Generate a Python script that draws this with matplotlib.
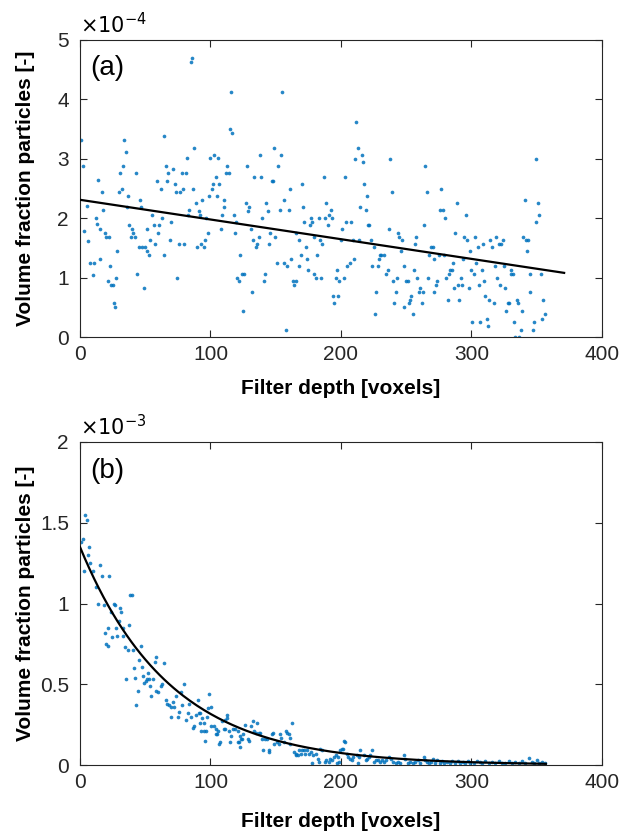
import matplotlib
matplotlib.use("Agg")
import numpy as np
import matplotlib.pyplot as plt
from matplotlib.ticker import FuncFormatter

# panel (a): volume fraction in units of 1e-4
depth_a = [1, 2, 3, 5, 6, 8, 10, 11, 12, 13, 14,
           15.7, 15.7, 17.0, 18.0, 18.8, 19.8, 21.1, 22.3, 22.9, 24.1, 25.2, 25.9, 27.2, 27.7, 28.7, 30.0, 31.0,
           32.0, 32.8, 33.8, 34.9, 35.9, 36.6, 37.7, 38.9, 40.0, 41.0, 42.0, 42.8, 43.8, 45.1, 45.8, 46.6, 47.9,
           48.9, 49.9, 51.0, 51.7, 53.0, 54.0, 55.0, 56.8, 57.8, 58.9, 59.6, 60.9, 61.9, 63.0, 64.0, 64.7, 65.8,
           66.8, 67.8, 68.6, 69.6, 70.9, 72.9, 73.9, 74.7, 76.0, 77.0, 78.0, 79.0, 79.8, 81.1, 81.9, 82.6, 83.6,
           84.9, 85.9, 86.9, 87.7, 89.0, 89.7, 91.0, 91.8, 92.8, 93.8, 94.9, 96.1, 96.9, 97.9, 98.9, 100.0, 101.0,
           101.7, 102.8, 104.0, 105.1, 105.6, 106.9, 107.9, 108.9, 110.2, 110.7, 111.7, 112.7, 114.0, 114.8, 115.8,
           116.8, 118.1, 118.9, 119.9, 120.6, 121.7, 122.9, 124.2, 124.7, 126.0, 127.0, 128.1, 128.8, 129.8, 130.9,
           131.9, 132.9, 133.7, 134.7, 136.0, 137.0, 137.8, 138.8, 139.8, 140.8, 141.8, 142.6, 143.9, 144.9, 145.9,
           147.2, 148.2, 148.7, 149.8, 151.1, 151.9, 152.9, 153.9, 154.9, 156.2, 156.7, 157.7, 158.8, 160.0, 160.8,
           161.8, 162.9, 163.9, 165.2, 165.9, 167.5, 168.0, 169.0, 170.0, 170.8, 171.8, 173.1, 174.1, 174.9, 175.9,
           176.9, 177.9, 179.0, 179.5, 180.7, 182.0, 183.0, 183.8, 184.8, 185.8, 186.9, 187.9, 188.9, 189.9, 191.0,
           192.0, 193.0, 193.8, 194.8, 196.1, 197.1, 197.9, 198.6, 199.9, 200.9, 202.2, 202.7, 204.0, 204.7, 206.8,
           207.8, 209.1, 209.9, 210.9, 211.6, 212.9, 213.9, 214.5, 216.0, 216.7, 217.7, 219.0, 220.0, 220.8, 221.8,
           222.9, 223.9, 225.1, 225.7, 226.7, 228.0, 229.0, 229.7, 231.0, 232.6, 234.6, 235.9, 236.9, 237.9, 239.0,
           239.7, 240.7, 241.8, 243.0, 243.5, 244.8, 245.8, 246.9, 248.1, 248.6, 249.9, 251.2, 252.0, 252.7, 253.8,
           255.0, 256.1, 257.1, 257.6, 258.6, 259.6, 260.9, 262.2, 262.7, 263.7, 264.7, 266.0, 266.8, 267.8, 269.3,
           270.4, 271.4, 271.6, 272.7, 273.9, 275.0, 275.5, 276.7, 278.0, 278.8, 279.6, 280.5, 281.8, 282.6, 283.9,
           285.1, 285.9, 286.7, 287.7, 289.0, 289.7, 290.8, 291.8, 292.8, 293.8, 294.6, 295.6, 296.6, 297.9, 298.7,
           299.7, 300.7, 301.7, 303.0, 303.8, 304.8, 305.8, 306.9, 307.9, 308.6, 309.7, 310.7, 312.0, 312.7, 313.7,
           314.5, 315.8, 317.1, 317.8, 318.9, 319.9, 321.2, 321.7, 322.7, 324.0, 324.7, 326.0, 326.8, 328.1, 329.1,
           330.1, 330.6, 331.6, 332.9, 333.7, 334.9, 335.7, 336.7, 337.8, 338.8, 339.8, 340.8, 341.6, 342.9, 343.6,
           344.7, 345.2, 346.8, 347.8, 349.1, 349.8, 350.9, 351.9, 352.9, 353.9, 354.7, 356.0]
frac_a = [3.32, 2.88, 1.78, 2.20, 1.62, 1.25, 1.05, 1.25, 2.00, 1.90, 2.65,
          1.82, 1.32, 2.44, 2.13, 1.75, 1.69, 0.94, 1.69, 1.19, 0.88, 0.88, 0.57, 0.50, 1.00, 1.44, 2.44, 2.76,
          2.50, 2.88, 3.31, 3.12, 2.19, 2.38, 1.88, 1.69, 1.82, 1.75, 1.69, 2.76, 1.06, 1.51, 2.31, 2.19, 1.51,
          0.82, 1.51, 1.44, 1.82, 1.38, 1.63, 2.06, 1.88, 1.57, 2.63, 1.75, 1.88, 2.50, 2.00, 1.38, 3.38, 2.88,
          2.63, 2.76, 1.63, 1.94, 2.82, 2.57, 2.44, 1.00, 1.57, 2.44, 2.76, 2.50, 1.57, 2.76, 3.01, 2.06, 2.13,
          4.63, 4.69, 2.50, 3.19, 2.25, 1.51, 2.12, 2.06, 1.57, 2.31, 1.51, 1.63, 2.00, 1.75, 2.38, 3.01, 2.50,
          2.57, 3.06, 2.69, 2.38, 3.01, 2.57, 1.82, 2.06, 2.19, 2.31, 2.76, 2.88, 2.76, 3.50, 4.12,
          3.44, 2.06, 1.75, 1.94, 1.00, 0.94, 1.38, 1.06, 0.44, 1.06, 2.25, 2.88, 2.12, 2.19, 1.82,
          0.76, 1.63, 2.69, 1.51, 1.57, 1.69, 3.06, 2.69, 2.00, 0.94, 1.06, 2.25, 2.12, 1.57, 1.75,
          2.63, 2.63, 3.19, 1.69, 1.25, 2.88, 2.13, 3.06, 4.12, 2.31, 1.25, 0.12, 1.19, 2.13, 2.50,
          1.32, 0.94, 0.88, 0.94, 1.75, 1.63, 1.19, 1.38, 2.57, 2.19, 1.94, 1.51, 1.32, 1.13, 1.88,
          2.00, 1.94, 1.69, 1.06, 1.00, 1.38, 2.00, 1.63, 1.00, 1.57, 2.69, 2.00, 2.25, 1.88, 2.06,
          2.13, 2.00, 0.69, 0.57, 1.00, 1.13, 0.69, 0.94, 1.63, 1.82, 1.00, 2.69, 1.94, 1.19, 1.25,
          1.94, 1.63, 1.32, 3.00, 3.62, 3.19, 1.63, 2.19, 3.06, 2.94, 2.57, 2.13, 2.38, 1.88, 1.88,
          1.63, 1.19, 1.51, 0.38, 0.76, 1.19, 1.32, 1.38, 1.38, 1.38, 1.06, 1.13, 1.82, 3.00, 2.44,
          0.94, 0.57, 0.76, 1.00, 1.75, 1.69, 1.44, 1.63, 1.19, 0.50, 0.94, 0.94, 0.57, 0.63, 0.69,
          0.38, 1.13, 1.56, 1.69, 1.00, 0.76, 0.82, 0.57, 0.76, 1.88, 2.88, 2.44, 1.00, 1.38, 1.51,
          1.51, 1.32, 0.76, 0.88, 0.94, 1.38, 2.13, 2.50, 2.13, 1.38, 2.00, 1.00, 0.63, 1.06, 1.13,
          1.13, 1.25, 0.82, 1.75, 2.25, 0.88, 0.63, 1.00, 0.88, 1.32, 1.69, 2.06, 1.63, 0.82, 1.44,
          1.13, 0.25, 1.06, 1.69, 1.25, 1.51, 0.88, 0.25, 1.13, 1.56, 0.94, 0.69, 0.31, 0.18, 0.63,
          1.63, 1.51, 0.57, 1.19, 1.69, 1.00, 1.56, 0.88, 1.56, 1.63, 1.19, 0.82, 0.44, 0.57, 0.57,
          1.06, 1.13, 1.06, 0.25, 0.00, 0.63, 0.57, 0.00, 0.12, 0.44, 1.69, 2.31, 1.63, 1.44, 1.63,
          1.06, 0.76, 0.12, 0.25, 1.94, 3.00, 2.25, 2.06, 1.06, 0.31, 0.63, 0.38]

# panel (b): volume fraction in units of 1e-3
depth_b = [1, 2, 3, 4, 5, 6, 7, 8, 10, 12, 14,
           15.7, 17.0, 18.3, 19.0, 19.8, 21.1, 21.8, 22.6, 24.1, 24.9, 25.9, 26.9, 27.4, 28.7, 29.7, 30.5, 31.8,
           32.6, 33.3, 34.3, 35.6, 36.9, 37.4, 38.7, 39.7, 40.7, 41.5, 42.5, 43.3, 44.3, 45.3, 46.4, 47.4, 48.1,
           49.2, 50.4, 51.0, 52.2, 53.2, 53.8, 54.5, 56.1, 57.3, 58.4, 58.6, 59.9, 61.7, 63.0, 64.0, 66.0, 67.0,
           68.1, 69.6, 69.9, 70.9, 72.4, 73.9, 75.0, 75.7, 77.5, 78.5, 79.8, 81.6, 82.6, 83.6, 84.7,
           86.4, 87.4, 89.2, 90.5, 91.0, 91.8, 92.0, 92.5, 93.6, 94.8, 95.1, 95.6, 96.4, 97.1, 98.2, 99.2, 100.2,
           100.7, 102.5, 104.3, 104.6, 105.3, 105.8, 106.9, 107.6, 108.6, 110.2, 111.0, 111.5, 112.5, 113.0, 114.0,
           114.8, 116.0, 117.3, 118.6, 120.9, 121.2, 121.9, 122.4, 122.9, 123.2, 124.2, 125.2, 126.8, 129.1, 129.8,
           131.4, 132.4, 133.4, 135.0, 135.5, 137.3, 138.0, 139.8, 140.3, 142.1, 143.1, 144.7, 144.9, 147.2, 148.2,
           148.7, 150.6, 152.4, 152.9, 154.4, 156.7, 157.5, 158.3, 159.8, 160.6, 161.3, 162.1, 163.9, 165.2, 165.7,
           166.9, 167.7, 169.0, 169.8, 171.5, 172.6, 174.1, 175.4, 177.2, 177.9, 178.7, 181.2, 182.3, 183.0, 184.3,
           185.8, 187.4, 188.9, 190.7, 191.5, 193.3, 194.5, 196.1, 196.6, 197.6, 198.4, 199.1, 200.7, 201.7, 202.2,
           203.2, 204.7, 205.5, 206.8, 208.1, 209.3, 211.9, 213.1, 213.7, 214.5, 217.5, 218.8, 220.0, 221.3, 222.6,
           223.9, 225.1, 226.9, 228.5, 230.0, 231.5, 233.1, 234.6, 236.6, 238.2, 239.7, 241.8, 243.8, 245.6, 248.4,
           249.4, 251.5, 253.2, 255.0, 257.1, 259.1, 260.9, 263.5, 264.7, 266.0, 267.3, 269.3, 270.6, 272.4, 273.9,
           275.5, 277.5, 279.3, 281.3, 283.4, 285.4, 287.4, 289.5, 291.5, 293.6, 295.4, 297.1, 299.2, 301.7, 304.3,
           306.3, 308.1, 310.7, 313.2, 315.8, 318.3, 320.9, 323.5, 326.0, 328.6, 331.1, 333.7, 336.2, 338.8, 341.3,
           343.9, 346, 348, 350, 352, 354, 356]
frac_b = [1.38, 1.40, 1.20, 1.55, 1.52, 1.30, 1.35, 1.25, 1.20, 1.10, 1.00,
          1.24, 1.17, 0.99, 0.82, 0.75, 0.74, 0.85, 1.17, 0.95, 0.79, 1.00, 0.99, 0.85, 0.80, 0.89, 0.97, 0.95,
          0.80, 0.85, 0.73, 0.53, 0.71, 0.87, 1.05, 1.05, 0.71, 0.60, 0.54, 0.37, 0.46, 0.65, 0.74, 0.61, 0.55,
          0.51, 0.52, 0.53, 0.57, 0.53, 0.49, 0.43, 0.53, 0.64, 0.67, 0.46, 0.45, 0.49, 0.50, 0.63, 0.40, 0.38,
          0.37, 0.36, 0.30, 0.39, 0.36, 0.43, 0.30, 0.33, 0.45, 0.37, 0.50, 0.28, 0.32, 0.38, 0.30,
          0.23, 0.24, 0.31, 0.40, 0.32, 0.26, 0.32, 0.21, 0.29, 0.26, 0.21, 0.15, 0.21, 0.30, 0.35, 0.44, 0.36,
          0.24, 0.24, 0.22, 0.19, 0.19, 0.21, 0.13, 0.14, 0.27, 0.22, 0.22, 0.28, 0.31, 0.29, 0.21,
          0.14, 0.18, 0.22, 0.22, 0.21, 0.14, 0.14, 0.18, 0.11, 0.16, 0.16, 0.19, 0.25, 0.16, 0.15,
          0.24, 0.27, 0.21, 0.20, 0.26, 0.20, 0.20, 0.16, 0.09, 0.16, 0.16, 0.09, 0.08, 0.19, 0.20,
          0.13, 0.14, 0.13, 0.19, 0.17, 0.14, 0.21, 0.20, 0.19, 0.13, 0.17, 0.26, 0.08, 0.06, 0.07,
          0.06, 0.09, 0.07, 0.09, 0.09, 0.07, 0.09, 0.07, 0.08, 0.01, 0.06, 0.07, 0.04, 0.02, 0.10,
          0.09, 0.02, 0.03, 0.02, 0.04, 0.03, 0.05, 0.06, 0.01, 0.05, 0.02, 0.09, 0.10, 0.10, 0.15,
          0.14, 0.07, 0.05, 0.04, 0.03, 0.05, 0.06, 0.01, 0.05, 0.09, 0.06, 0.03, 0.04, 0.05, 0.06,
          0.09, 0.02, 0.03, 0.03, 0.02, 0.03, 0.02, 0.03, 0.05, 0.04, 0.02, 0.01, 0.02, 0.01, 0.06,
          0.04, 0.01, 0.02, 0.01, 0.02, 0.03, 0.01, 0.05, 0.03, 0.02, 0.01, 0.02, 0.04, 0.01, 0.03,
          0.01, 0.027, 0.010, 0.021, 0.010, 0.023, 0.010, 0.027, 0.010, 0.019, 0.010, 0.027, 0.014, 0.010, 0.027,
          0.019, 0.010, 0.023, 0.010, 0.021, 0.010, 0.023, 0.014, 0.010, 0.023, 0.010, 0.019, 0.010, 0.027, 0.014,
          0.041, 0.02, 0.01, 0.03, 0.01, 0.02, 0.01]

# fitted trends
lin_a_x = [0, 371]
lin_a_y = [2.31, 1.08]          # x 1e-4
exp_b_amp = 1.35                # x 1e-3
exp_b_rate = 0.0145
exp_b_xmax = 357

blue = "#0072BD"
plt.rcParams["font.family"] = ["Liberation Sans", "DejaVu Sans"]
plt.rcParams["font.size"] = 15

fig = plt.figure(figsize=(6.22, 8.33), dpi=100)
ax1 = fig.add_axes([0.1286, 0.5954, 0.8392, 0.3566])
ax2 = fig.add_axes([0.1286, 0.0816, 0.8392, 0.3878])


def style(ax, scale, ymax, yticks, exp_txt, tag, xlab_off):
    ax.set_xlim(0, 400)
    ax.set_ylim(0, ymax * scale)
    ax.set_xticks([0, 100, 200, 300, 400])
    ax.set_yticks([t * scale for t in yticks])
    ax.yaxis.set_major_formatter(FuncFormatter(lambda v, p: f"{v / scale:g}"))
    ax.tick_params(direction="in", top=True, right=True, length=5, width=0.8,
                   labelsize=15, colors="#262626")
    ax.tick_params(axis="x", pad=6)
    ax.tick_params(axis="y", pad=8)
    for s in ax.spines.values():
        s.set_linewidth(0.8)
        s.set_color("#262626")
    ax.set_xlabel("Filter depth [voxels]", fontsize=15, fontweight="bold")
    ax.set_ylabel("Volume fraction particles [-]", fontsize=15, fontweight="bold")
    h = ax.get_position().height * fig.get_figheight() * fig.dpi
    w = ax.get_position().width * fig.get_figwidth() * fig.dpi
    ax.xaxis.set_label_coords(0.5, -xlab_off / h)
    ax.yaxis.set_label_coords(-54 / w, 0.5)
    ax.xaxis.label.set_va("center")
    ax.yaxis.label.set_va("center")
    ax.text(0.0, 1.01, exp_txt, transform=ax.transAxes, fontsize=15, ha="left", va="bottom")
    ax.text(0.02, 0.95, tag, transform=ax.transAxes, fontsize=20, ha="left", va="top")


sa = 1e-4
ax1.scatter(depth_a, np.array(frac_a) * sa, s=7, color=blue, alpha=0.85, linewidths=0, zorder=2)
ax1.plot(lin_a_x, np.array(lin_a_y) * sa, color="black", lw=1.6, zorder=3)
style(ax1, sa, 5, [0, 1, 2, 3, 4, 5], r"$\times10^{-4}$", "(a)", 51)

sb = 1e-3
ax2.scatter(depth_b, np.array(frac_b) * sb, s=7, color=blue, alpha=0.85, linewidths=0, zorder=2)
xf = np.linspace(0, exp_b_xmax, 200)
ax2.plot(xf, exp_b_amp * sb * np.exp(-exp_b_rate * xf), color="black", lw=1.6, zorder=3)
style(ax2, sb, 2, [0, 0.5, 1, 1.5, 2], r"$\times10^{-3}$", "(b)", 56)

fig.savefig("out.png", dpi=100)
